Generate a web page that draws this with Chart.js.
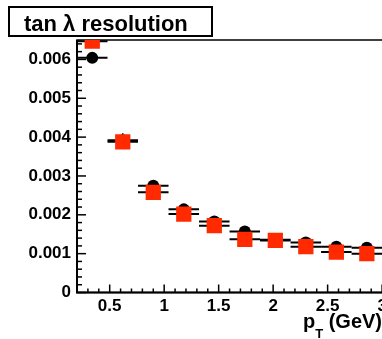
<!DOCTYPE html>
<html>
<head>
<meta charset="utf-8">
<script src="https://cdn.jsdelivr.net/npm/chart.js@4.4.1/dist/chart.umd.min.js"></script>
<style>
  html, body { margin: 0; padding: 0; background: #fff; overflow: hidden; }
  #wrap { width: 382px; height: 339px; overflow: hidden; }
  canvas { display: block; }
</style>
</head>
<body>
<div id="wrap"><canvas id="res" width="420" height="339"></canvas></div>
<script>
// pT bins (GeV): centres and half widths
var ptCentres   = [0.34, 0.62, 0.90, 1.18, 1.46, 1.74, 2.02, 2.30, 2.58, 2.86];
var ptHalfWidth = [0.14, 0.14, 0.14, 0.14, 0.14, 0.14, 0.14, 0.14, 0.14, 0.14];

// tan lambda resolution, black circles
var resBlack    = [0.00604, 0.00392, 0.00275, 0.00214, 0.00183, 0.00157, 0.00136, 0.00129, 0.00118, 0.00115];
var resBlackErr = [0.00004, 0.00018, 0.00006, 0.00006, 0.00005, 0.00005, 0.00004, 0.00004, 0.00004, 0.00004];

// tan lambda resolution, red squares
var resRed      = [0.00647, 0.00388, 0.00258, 0.00202, 0.00172, 0.00137, 0.00134, 0.00118, 0.00104, 0.00100];

var xTicks = [0.5, 1, 1.5, 2, 2.5, 3];
var yTicks = [0, 0.001, 0.002, 0.003, 0.004, 0.005, 0.006];

var FONT = 'Liberation Sans, Arial, Helvetica, sans-serif';

function points(ys) {
  return ptCentres.map(function (x, i) { return { x: x, y: ys[i] }; });
}

// horizontal bin bars (and vertical errors) drawn right before each set of markers
var errorBars = {
  id: 'errorBars',
  beforeDatasetDraw: function (chart, args) {
    var ds = chart.data.datasets[args.index];
    var xs = chart.scales.x, ys = chart.scales.y, a = chart.chartArea;
    var ctx = chart.ctx;
    ctx.save();
    ctx.beginPath();
    ctx.rect(a.left, a.top, a.right - a.left, a.bottom - a.top);
    ctx.clip();
    ctx.strokeStyle = '#000';
    ctx.lineWidth = 2;
    ds.data.forEach(function (p, i) {
      var y = ys.getPixelForValue(p.y);
      ctx.beginPath();
      ctx.moveTo(xs.getPixelForValue(p.x - ptHalfWidth[i]), y);
      ctx.lineTo(xs.getPixelForValue(p.x + ptHalfWidth[i]), y);
      ctx.stroke();
      if (ds.yErr) {
        var x = xs.getPixelForValue(p.x);
        ctx.lineWidth = 1.5;
        ctx.beginPath();
        ctx.moveTo(x, ys.getPixelForValue(p.y - ds.yErr[i]));
        ctx.lineTo(x, ys.getPixelForValue(p.y + ds.yErr[i]));
        ctx.stroke();
        ctx.lineWidth = 2;
      }
    });
    ctx.restore();
  }
};

// frame, axis lines and inward ticks
var axisFrame = {
  id: 'axisFrame',
  beforeDatasetsDraw: function (chart) {
    var ctx = chart.ctx, a = chart.chartArea;
    var xs = chart.scales.x, ys = chart.scales.y;
    ctx.save();
    ctx.strokeStyle = '#000';
    ctx.lineWidth = 1.5;
    ctx.strokeRect(a.left, a.top, a.right - a.left, a.bottom - a.top);

    ctx.lineWidth = 2;
    ctx.beginPath();
    ctx.moveTo(a.left, a.top);
    ctx.lineTo(a.left, a.bottom);
    ctx.lineTo(a.right, a.bottom);
    ctx.stroke();

    ctx.lineWidth = 1.5;
    var k, v, p, len;
    for (k = 2; k <= 31; k++) {
      v = k / 10;
      if (v > xs.max) break;
      p = xs.getPixelForValue(v);
      len = (k % 5 === 0) ? 8 : 4;
      ctx.beginPath();
      ctx.moveTo(p, a.bottom);
      ctx.lineTo(p, a.bottom - len);
      ctx.stroke();
    }
    for (k = 0; k <= 32; k++) {
      v = k * 0.0002;
      if (v > ys.max) break;
      p = ys.getPixelForValue(v);
      len = (k % 5 === 0) ? 9 : 5;
      ctx.beginPath();
      ctx.moveTo(a.left, p);
      ctx.lineTo(a.left + len, p);
      ctx.stroke();
    }
    ctx.restore();
  },
  afterDraw: function (chart) {
    var ctx = chart.ctx;
    ctx.save();
    // title box
    ctx.fillStyle = '#fff';
    ctx.fillRect(9, 7, 203, 29);
    ctx.strokeStyle = '#000';
    ctx.lineWidth = 2;
    ctx.strokeRect(9, 7, 203, 29);
    ctx.fillStyle = '#000';
    ctx.textBaseline = 'alphabetic';
    ctx.textAlign = 'left';
    ctx.font = 'bold 22px ' + FONT;
    ctx.fillText('tan \u03bb resolution', 24, 31);

    // x axis title: p_T (GeV), right aligned at the axis end
    var big = 'bold 20px ' + FONT, small = 'bold 13px ' + FONT;
    ctx.font = big;
    var wP = ctx.measureText('p').width;
    var wRest = ctx.measureText(' (GeV)').width;
    ctx.font = small;
    var wT = ctx.measureText('T').width;
    var x0 = 382 - wRest - wT - wP;
    ctx.font = big;
    ctx.fillText('p', x0, 328);
    ctx.font = small;
    ctx.fillText('T', x0 + wP, 338);
    ctx.font = big;
    ctx.fillText(' (GeV)', x0 + wP + wT, 328);
    ctx.restore();
  }
};

new Chart(document.getElementById('res'), {
  type: 'scatter',
  plugins: [errorBars, axisFrame],
  data: {
    datasets: [{
      label: 'black',
      data: points(resBlack),
      yErr: resBlackErr,
      order: 1,
      pointStyle: 'circle',
      pointRadius: 6,
      pointBackgroundColor: '#000',
      pointBorderColor: '#000',
      pointBorderWidth: 0,
      clip: 0
    }, {
      label: 'red',
      data: points(resRed),
      order: 0,
      pointStyle: 'rect',
      pointRadius: 10.8,
      pointBackgroundColor: '#ff2a00',
      pointBorderColor: '#ff2a00',
      pointBorderWidth: 0,
      clip: 0
    }]
  },
  options: {
    responsive: false,
    animation: false,
    events: [],
    layout: { padding: { top: 40, right: 27, left: 0, bottom: 0 } },
    plugins: {
      legend: { display: false },
      tooltip: { enabled: false },
      title: { display: false }
    },
    scales: {
      x: {
        type: 'linear',
        min: 0.2,
        max: 3.1,
        grid: { display: false, drawTicks: false },
        border: { display: false },
        afterBuildTicks: function (scale) {
          scale.ticks = xTicks.map(function (v) { return { value: v }; });
        },
        afterFit: function (scale) { scale.height = 46.5; },
        ticks: {
          padding: 4,
          maxRotation: 0,
          color: '#000',
          font: { family: FONT, size: 17, weight: 'bold' },
          callback: function (v) { return String(v); }
        }
      },
      y: {
        type: 'linear',
        min: 0,
        max: 0.0065,
        grid: { display: false, drawTicks: false },
        border: { display: false },
        afterBuildTicks: function (scale) {
          scale.ticks = yTicks.map(function (v) { return { value: v }; });
        },
        afterFit: function (scale) { scale.width = 77; },
        ticks: {
          padding: 6,
          color: '#000',
          font: { family: FONT, size: 17, weight: 'bold' },
          callback: function (v) { return v === 0 ? '0' : v.toFixed(3); }
        }
      }
    }
  }
});
</script>
</body>
</html>
